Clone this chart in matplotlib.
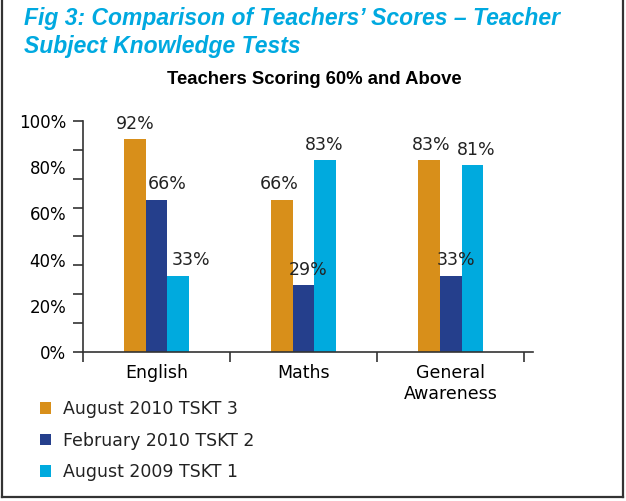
import numpy as np
import matplotlib

matplotlib.use("Agg")
import matplotlib.pyplot as plt
from matplotlib.lines import Line2D
from matplotlib.ticker import FixedLocator, MultipleLocator

# --- data -------------------------------------------------------------------
categories = ["English", "Maths", "General\nAwareness"]
series = ["August 2010 TSKT 3", "February 2010 TSKT 2", "August 2009 TSKT 1"]
aug_2010 = [92, 66, 83]
feb_2010 = [66, 29, 33]
aug_2009 = [33, 83, 81]
y_ticks = [0, 20, 40, 60, 80, 100]

# --- style ------------------------------------------------------------------
COLOURS = ["#d88f1a", "#253f8c", "#00aade"]
TITLE_BLUE = "#00a9e0"
INK = "#222222"
AXIS = "#333333"
W, H = 626, 501
BAR_W = 0.148
# small nudges (points) the original applied to some value labels
LABEL_DX = [[0, 8, 9], [-2, 3, -1], [2, 4, 3]]

plt.rcParams["font.family"] = "DejaVu Sans"
plt.rcParams["text.color"] = INK

fig = plt.figure(figsize=(W / 100, H / 100), dpi=100)
ax = fig.add_axes([83 / W, 1 - 352 / H, (533 - 83) / W, (352 - 121) / H])

x = np.arange(len(categories))
values = [aug_2010, feb_2010, aug_2009]
for i, (vals, col, name) in enumerate(zip(values, COLOURS, series)):
    pos = x + (i - 1) * BAR_W
    ax.bar(pos, vals, width=BAR_W, color=col, label=name, zorder=2)
    for j, (px, v) in enumerate(zip(pos, vals)):
        ax.annotate(f"{v}%", (px, v), xytext=(LABEL_DX[j][i], 11),
                    textcoords="offset points", ha="center", va="center",
                    fontsize=12.5, color=INK)

ax.set_xlim(-0.5, 2.56)
ax.set_ylim(0, 100)

for side in ("top", "right"):
    ax.spines[side].set_visible(False)
for side in ("left", "bottom"):
    ax.spines[side].set_color(AXIS)
    ax.spines[side].set_linewidth(1.2)

ax.set_xticks(x)
ax.set_xticklabels(categories, fontsize=12.5, linespacing=1.2)
ax.xaxis.set_minor_locator(FixedLocator([-0.5, 0.5, 1.5, 2.5]))
ax.xaxis.remove_overlapping_locs = False
ax.tick_params(axis="x", which="major", length=0, pad=9)
ax.tick_params(axis="x", which="minor", length=7, width=1.2, color=AXIS)

ax.set_yticks(y_ticks)
ax.set_yticklabels([f"{t}%" for t in y_ticks], fontsize=12)
ax.yaxis.set_minor_locator(MultipleLocator(12.5))
ax.yaxis.remove_overlapping_locs = False
ax.tick_params(axis="y", which="major", length=0, pad=12)
ax.tick_params(axis="y", which="minor", length=7, width=1.2, color=AXIS)

# titles
fig.text(24 / W, 1 - 7 / H,
         "Fig 3: Comparison of Teachers\u2019 Scores \u2013 Teacher\nSubject Knowledge Tests",
         family="Liberation Sans", fontsize=16.5, weight="bold", style="italic",
         color=TITLE_BLUE, va="top", ha="left", linespacing=1.3)
fig.text(314 / W, 1 - 80 / H, "Teachers Scoring 60% and Above",
         family="Liberation Sans", fontsize=13.3, weight="bold", ha="center",
         va="center", color="black")

# legend, stacked under the axis
fig.legend(loc="upper left", bbox_to_anchor=(40 / W, 1 - 400 / H), frameon=False,
           fontsize=12.5, handlelength=0.62, handleheight=0.62, handletextpad=0.7,
           labelspacing=0.78, borderpad=0, borderaxespad=0)

# frame round the panel (open at the top)
for xs, ys in (([2, 2], [0, 497]), ([623, 623], [0, 497]), ([2, 623], [497, 497])):
    fig.add_artist(Line2D([v / W for v in xs], [1 - v / H for v in ys],
                          color=AXIS, lw=1.6, transform=fig.transFigure))

fig.savefig("out.png", dpi=100)
